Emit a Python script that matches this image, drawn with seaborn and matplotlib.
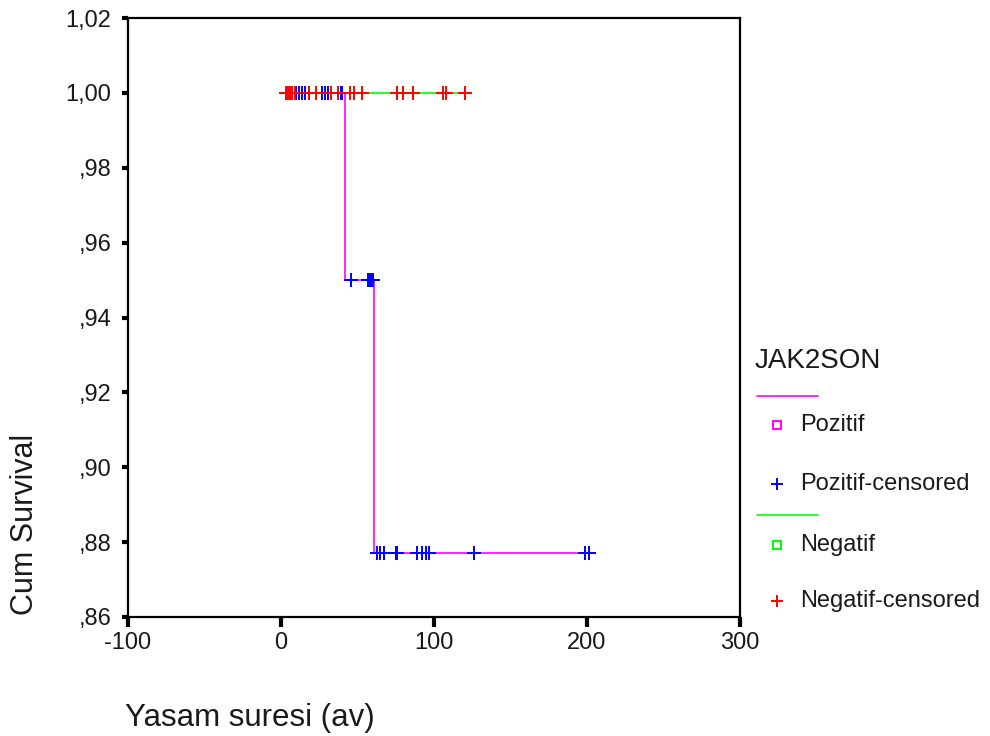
import matplotlib
matplotlib.use("Agg")
import matplotlib.pyplot as plt
import seaborn as sns

# Kaplan-Meier steps (time in months, cumulative survival)
pos_step_time = [0, 42, 61, 201]
pos_step_surv = [1.00, 0.95, 0.877, 0.877]
neg_step_time = [0, 121]
neg_step_surv = [1.00, 1.00]

# censored observations
pos_cens_time = [10, 12, 14, 16, 18, 27, 29, 31, 39, 40,
                 46, 57, 58, 59, 60,
                 63, 65, 67, 75, 76, 89, 92, 95, 97, 126, 199, 201]
pos_cens_surv = [1.00] * 10 + [0.95] * 5 + [0.877] * 12
neg_cens_time = [3, 4, 5, 6, 7, 9, 18, 23, 33, 37, 45, 48, 53,
                 76, 80, 86, 106, 108, 120]
neg_cens_surv = [1.00] * len(neg_cens_time)

x_ticks = [-100, 0, 100, 200, 300]
y_ticks = [0.86, 0.88, 0.90, 0.92, 0.94, 0.96, 0.98, 1.00, 1.02]

PINK, GREEN, BLUE, RED = "#ff00ff", "#00ff00", "#0000ff", "#ff0000"
TXT = "#1a1a1a"

sns.set_style("white")
plt.rcParams["font.family"] = ["Liberation Sans", "DejaVu Sans"]

W, H = 990, 736
fig = plt.figure(figsize=(W / 100, H / 100), dpi=100)
ax = fig.add_axes([128 / W, 1 - 617 / H, (740 - 128) / W, (617 - 18) / H])

sns.lineplot(x=pos_step_time, y=pos_step_surv, drawstyle="steps-post",
             color=PINK, lw=1.2, estimator=None, sort=False, ax=ax, zorder=2)
sns.lineplot(x=neg_step_time, y=neg_step_surv, drawstyle="steps-post",
             color=GREEN, lw=1.2, estimator=None, sort=False, ax=ax, zorder=2)
sns.scatterplot(x=pos_cens_time, y=pos_cens_surv, marker="+", s=110,
                color=BLUE, linewidth=1.4, ax=ax, zorder=3)
sns.scatterplot(x=neg_cens_time, y=neg_cens_surv, marker="+", s=110,
                color=RED, linewidth=1.4, ax=ax, zorder=4)

ax.set_xlim(-100, 300)
ax.set_ylim(0.86, 1.02)
ax.set_xticks(x_ticks)
ax.set_xticklabels([str(v) for v in x_ticks])
ax.set_yticks(y_ticks)
ax.set_yticklabels([f"{v:.2f}".replace(".", ",") if v >= 1 else "," + f"{v:.2f}"[2:]
                    for v in y_ticks])
ax.tick_params(axis="y", left=True, direction="out", length=4, width=3, pad=8,
               labelsize=17, color="black", labelcolor=TXT)
ax.tick_params(axis="x", bottom=True, direction="out", length=7, width=3, pad=4,
               labelsize=17, color="black", labelcolor=TXT)
for sp in ax.spines.values():
    sp.set_visible(True)
    sp.set_color("black")
    sp.set_linewidth(1.6)
ax.set_xlabel("")
ax.set_ylabel("")

# overlay in pixel coordinates for axis titles and the legend
ov = fig.add_axes([0, 0, 1, 1], zorder=-1)
ov.set_xlim(0, W)
ov.set_ylim(H, 0)
ov.axis("off")

ov.text(25, 615, "Cum Survival", rotation=90, ha="center", va="bottom",
        fontsize=22, color=TXT)
ov.text(125, 726, "Yasam suresi (av)", ha="left", va="baseline",
        fontsize=22.5, color=TXT)

ov.text(755, 361, "JAK2SON", ha="left", va="center", fontsize=20, color=TXT)
rows = [
    ("line", PINK, 396, None),
    ("s", PINK, 425, "Pozitif"),
    ("+", BLUE, 484, "Pozitif-censored"),
    ("line", GREEN, 515, None),
    ("s", GREEN, 545, "Negatif"),
    ("+", RED, 601, "Negatif-censored"),
]
for kind, col, yy, label in rows:
    if kind == "line":
        ov.plot([757, 818], [yy, yy], color=col, lw=1.2)
    elif kind == "s":
        ov.plot([777], [yy], marker="s", ms=5.5, mfc="none", mec=col, mew=1.4)
    else:
        ov.plot([777], [yy], marker="+", ms=9, mec=col, mew=1.4)
    if label:
        ov.text(800, yy, label, ha="left", va="center", fontsize=17, color=TXT)

fig.savefig("out.png", dpi=100)
